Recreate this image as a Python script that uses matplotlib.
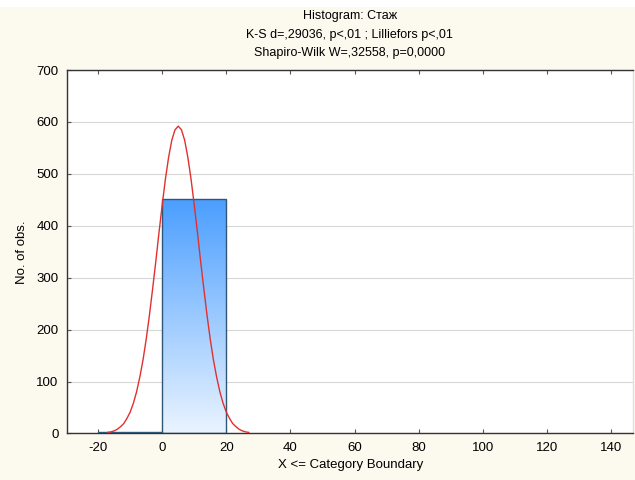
"""Histogram of work experience (Стаж) with fitted normal curve, Statistica style."""
import matplotlib
matplotlib.use("Agg")
import matplotlib.pyplot as plt
import numpy as np
from matplotlib.patches import Rectangle

plt.rcParams["font.family"] = ["Liberation Sans", "DejaVu Sans"]
plt.rcParams["axes.unicode_minus"] = False

# histogram bins (upper boundaries) and counts
bin_edges = [-20, 0, 20, 40, 60, 80, 100, 120, 140]
counts = [2, 452, 0, 0, 0, 0, 0, 0]

# expected-normal curve, values
curve_x = [-17, -16, -15, -14, -13, -12, -11, -10, -9, -8, -7, -6, -5, -4,
           -3, -2, -1, 0, 1, 2, 3, 4, 5, 6, 7, 8, 9, 10, 11, 12, 13, 14, 15,
           16, 17, 18, 19, 20, 21, 22, 23, 24, 25, 26, 27]
curve_y = [2, 3, 5, 8, 13, 19, 29, 41, 58, 80, 108, 141, 181, 227,
           278, 331, 387, 440, 490, 532, 565, 585, 592, 585, 565, 532, 490, 440, 387,
           331, 278, 227, 181, 141, 108, 80, 58, 41, 29, 19, 13, 8, 5,
           3, 2]

title_lines = ["Histogram: Стаж",
               "K-S d=,29036, p<,01 ; Lilliefors p<,01",
               "Shapiro-Wilk W=,32558, p=0,0000"]

fig = plt.figure(figsize=(6.35, 4.8), dpi=100, facecolor="#fcf9ef")
ax = fig.add_axes([0.1055, 0.097, 0.892, 0.757])
ax.set_facecolor("white")

# white strip of the page above the chart
fig.patches.append(Rectangle((0, 0.985), 1, 0.015, transform=fig.transFigure,
                             facecolor="white", edgecolor="none"))

grad = np.linspace(1, 0, 256).reshape(-1, 1)
cmap = matplotlib.colors.LinearSegmentedColormap.from_list(
    "bar", ["#eaf4ff", "#4a9eff"])
for left, right, c in zip(bin_edges[:-1], bin_edges[1:], counts):
    if c <= 0:
        continue
    rect = Rectangle((left, 0), right - left, c, facecolor="none",
                     edgecolor="#2f5677", linewidth=1.0, zorder=3)
    ax.add_patch(rect)
    im = ax.imshow(grad, extent=(left, right, 0, c), aspect="auto",
                   cmap=cmap, origin="upper", zorder=2)
    im.set_clip_path(rect)

ax.plot(curve_x, curve_y, color="#e03030", linewidth=1.0, zorder=4)

ax.set_xlim(-29.7, 147)
ax.set_ylim(0, 700)
ax.set_xticks(range(-20, 141, 20))
ax.set_yticks(range(0, 701, 100))
ax.yaxis.grid(True, color="#d8d8d8", linewidth=0.8)
ax.set_axisbelow(True)
ax.tick_params(direction="in", length=3, labelsize=9.5, color="#555555",
               top=True, pad=6)
for s in ax.spines.values():
    s.set_color("#333333")
    s.set_linewidth(1.0)
ax.spines["right"].set_color("#e0e0e0")

ax.set_xlabel("X <= Category Boundary", fontsize=9.5, labelpad=4)
ax.set_ylabel("No. of obs.", fontsize=9.5, labelpad=6)

for i, line in enumerate(title_lines):
    fig.text(0.551, 0.967 - i * 0.039, line, ha="center", va="center", fontsize=9)

fig.savefig("out.png", dpi=100, facecolor=fig.get_facecolor())
